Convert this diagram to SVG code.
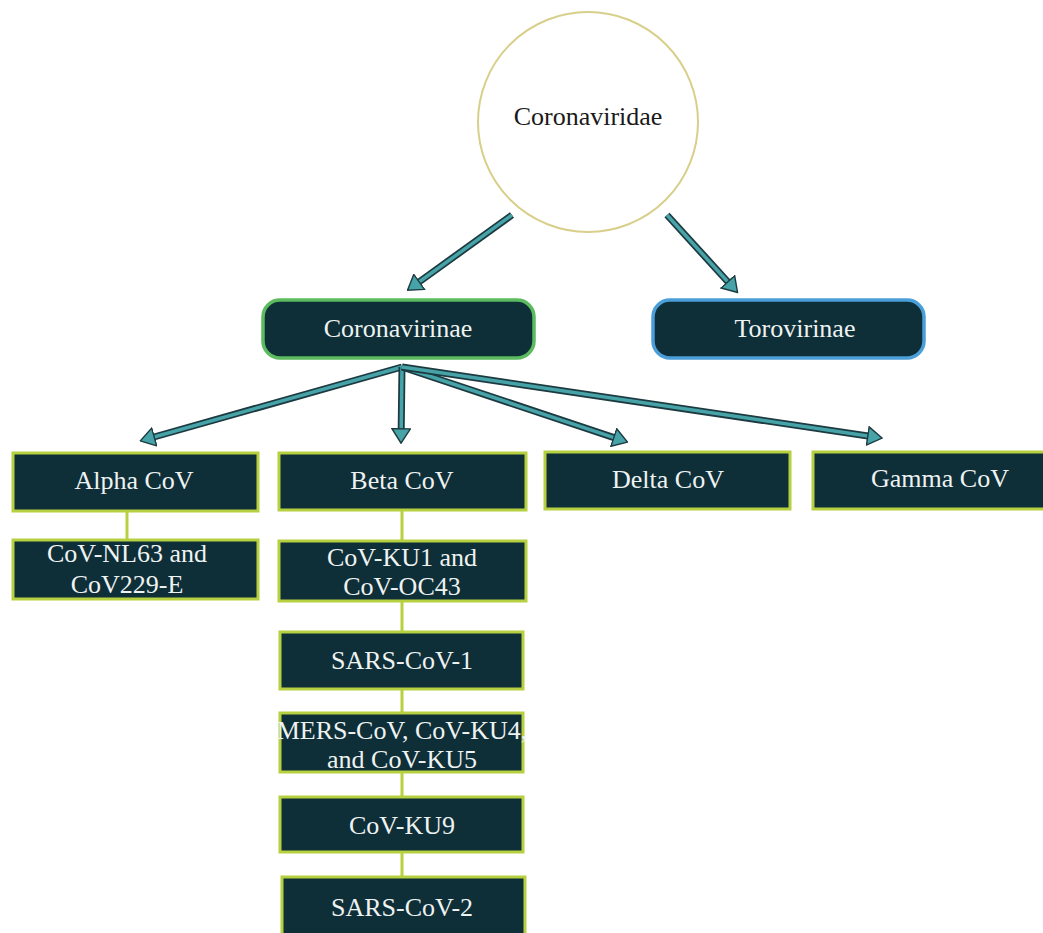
<svg xmlns="http://www.w3.org/2000/svg" width="1043" height="933" viewBox="0 0 1043 933">
<style>
.box{fill:#0e2e38;stroke:#b6d040;stroke-width:3}
.lbl{font-family:"Liberation Serif","DejaVu Serif",serif;font-size:26px;fill:#eef3f2;text-anchor:middle}
.big{font-size:26px}
.sh{stroke:#1c3a40;stroke-width:7;fill:none}
.cr{stroke:#46a3a8;stroke-width:3.5;fill:none}
.vl{stroke:#b6d040;stroke-width:3;fill:none}
</style>
<defs>
<marker id="ah" viewBox="0 0 16 20" markerWidth="16" markerHeight="20" refX="1" refY="10" orient="auto" markerUnits="userSpaceOnUse">
<path d="M0.8,0.8 L15.2,10 L0.8,19.2 Z" fill="#46a3a8" stroke="#1c3a40" stroke-width="1.4"/>
</marker>
</defs>
<rect width="1043" height="933" fill="#ffffff"/>
<g id="connectors">
<g id="c-root-corona"><line class="sh" x1="512" y1="215" x2="419" y2="282"/><line class="cr" x1="512" y1="215" x2="419" y2="282" marker-end="url(#ah)"/></g>
<g id="c-root-toro"><line class="sh" x1="667" y1="215" x2="728" y2="282"/><line class="cr" x1="667" y1="215" x2="728" y2="282" marker-end="url(#ah)"/></g>
<g id="c-alpha"><line class="sh" x1="402" y1="367" x2="154" y2="437"/><line class="cr" x1="402" y1="367" x2="154" y2="437" marker-end="url(#ah)"/></g>
<g id="c-beta"><line class="sh" x1="402" y1="367" x2="401.2" y2="429"/><line class="cr" x1="402" y1="367" x2="401.2" y2="429" marker-end="url(#ah)"/></g>
<g id="c-delta"><line class="sh" x1="402" y1="367" x2="614" y2="437.6"/><line class="cr" x1="402" y1="367" x2="614" y2="437.6" marker-end="url(#ah)"/></g>
<g id="c-gamma"><line class="sh" x1="402" y1="367" x2="868" y2="436"/><line class="cr" x1="402" y1="367" x2="868" y2="436" marker-end="url(#ah)"/></g>
<line class="vl" x1="127" y1="511" x2="127" y2="540"/>
<line class="vl" x1="402" y1="510" x2="402" y2="541"/>
<line class="vl" x1="402" y1="601" x2="402" y2="632"/>
<line class="vl" x1="402" y1="689" x2="402" y2="713"/>
<line class="vl" x1="402" y1="772" x2="402" y2="797"/>
<line class="vl" x1="402" y1="852" x2="402" y2="877"/>
</g>
<g id="coronaviridae">
<circle cx="588" cy="122" r="110" fill="#ffffff" stroke="#d8cf8a" stroke-width="2"/>
<text class="lbl big" x="588" y="125" style="fill:#1a1a1a">Coronaviridae</text>
</g>
<g id="coronavirinae">
<rect x="263" y="300" width="271" height="58" rx="17" fill="#0e2e38" stroke="#5bbb5e" stroke-width="3.5"/>
<text class="lbl big" x="398" y="337">Coronavirinae</text>
</g>
<g id="torovirinae">
<rect x="653" y="300" width="271" height="58" rx="17" fill="#0e2e38" stroke="#4b9fd8" stroke-width="3.5"/>
<text class="lbl big" x="795" y="337">Torovirinae</text>
</g>
<g id="alpha"><rect class="box" x="13" y="453" width="245" height="58"/><text class="lbl" x="134" y="489">Alpha CoV</text></g>
<g id="beta"><rect class="box" x="279" y="453" width="247" height="57"/><text class="lbl" x="402" y="489">Beta CoV</text></g>
<g id="delta"><rect class="box" x="545" y="452" width="245" height="57"/><text class="lbl" x="668" y="488">Delta CoV</text></g>
<g id="gamma"><rect class="box" x="813" y="452" width="250" height="57"/><text class="lbl" x="940" y="487">Gamma CoV</text></g>
<g id="nl63"><rect class="box" x="13" y="540" width="245" height="59"/><text class="lbl" x="127" y="562">CoV-NL63 and</text><text class="lbl" x="127" y="593">CoV229-E</text></g>
<g id="ku1"><rect class="box" x="279" y="541" width="247" height="60"/><text class="lbl" x="402" y="566">CoV-KU1 and</text><text class="lbl" x="402" y="595">CoV-OC43</text></g>
<g id="sars1"><rect class="box" x="280" y="632" width="243" height="57"/><text class="lbl" x="402" y="669">SARS-CoV-1</text></g>
<g id="mers"><rect class="box" x="280" y="713" width="243" height="59"/><text class="lbl" x="402" y="739">MERS-CoV, CoV-KU4,</text><text class="lbl" x="402" y="768">and CoV-KU5</text></g>
<g id="ku9"><rect class="box" x="280" y="797" width="243" height="55"/><text class="lbl" x="402" y="834">CoV-KU9</text></g>
<g id="sars2"><rect class="box" x="282" y="877" width="243" height="64"/><text class="lbl" x="402" y="916">SARS-CoV-2</text></g>
</svg>
